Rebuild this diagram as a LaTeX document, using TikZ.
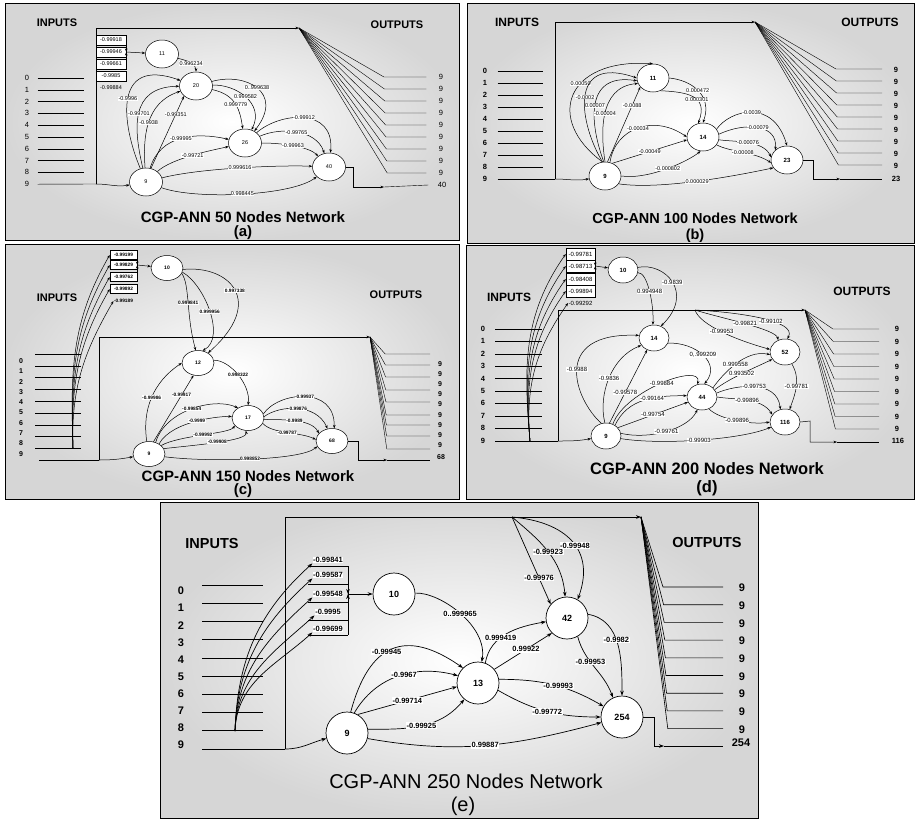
\documentclass[tikz,border=0pt]{standalone}
\usepackage{fontspec}
\setmainfont{Liberation Sans}
\usetikzlibrary{arrows.meta,shapes.geometric}
\newcommand{\fsz}[1]{\fontsize{#1}{#1}\selectfont}
\tikzset{
  panel/.style={draw, line width=0.8pt, inner color=white, outer color=black!16},
  neu/.style={draw, ellipse, fill=white, inner sep=0pt, line width=0.5pt},
  neuA/.style={neu, minimum width=33pt, minimum height=28pt, font=\fsz{5.5}},
  neuB/.style={neu, minimum width=32pt, minimum height=28pt, font=\bfseries\fsz{6}},
  neuC/.style={neu, minimum width=32pt, minimum height=25pt, font=\bfseries\fsz{5}},
  neuD/.style={neu, minimum width=30pt, minimum height=26pt, font=\bfseries\fsz{6}},
  neuE/.style={neu, circle, minimum size=42pt, line width=0.7pt, font=\bfseries\fsz{9}},
  link/.style={line width=0.5pt, -{Stealth[length=3.5pt,width=2.6pt]}},
  linkE/.style={line width=0.7pt, -{Stealth[length=5pt,width=3.6pt]}},
  wt/.style={fill=white, inner sep=0.4pt},
  wA/.style={wt, font=\fsz{5.5}},
  wC/.style={wt, font=\bfseries\fsz{4.8}},
  wD/.style={wt, font=\fsz{6}},
  wE/.style={wt, inner sep=0.6pt, font=\bfseries\fsz{7.5}},
  wbox/.style={draw, line width=0.5pt, minimum height=10pt},
  hdr/.style={font=\bfseries\fsz{11}},
  num/.style={font=\bfseries\fsz{7.5}},
  ttl/.style={font=\bfseries\fsz{15}},
}
\begin{document}
\begin{tikzpicture}[x=1pt, y=-1pt]
\useasboundingbox (0,0) rectangle (916,820);

% ---------- (a) 50 nodes
\path[panel] (5,3) rectangle (459,240);
\node[hdr] (aIn) at (57,23) {INPUTS};
\node[hdr] (aOut) at (397,25) {OUTPUTS};
\foreach \k in {0,...,9}
  \node[num, font=\fsz{7.5}] (ax\k) at (27,{78+11.8*\k}) {\k};
\foreach \k in {0,...,8}
  \draw ([xshift=5pt]ax\k.east) -- ++(46,0);
\coordinate (aj) at (96,184);
\coordinate (aF) at (299,28);
\draw ([xshift=5pt]ax9.east) -- (aj);
\draw[link] (aj) |- (aF);
\foreach \k in {0,...,8}{
  \node[num, font=\fsz{7.5}] (ay\k) at (441,{77+12*\k}) {9};
  \draw (aF) -- ({384+.4*\k},{77+12*\k}) -- ([xshift=-9pt]ay\k.west);
}
\node[num, font=\fsz{7.5}] (ay9) at (442,185) {40};

\node[wA, wbox, minimum width=30pt] (aw1) at (111,40) {-0.99918};
\node[wA, wbox, minimum width=30pt] (aw2) at (111,52) {-0.99946};
\node[wA, wbox, minimum width=30pt] (aw3) at (111,64) {-0.99661};
\node[wA, wbox, minimum width=30pt] (aw4) at (111,76) {-0.9985};
\node[wA, fill=none] (aw5) at (111,88) {-0.99884};

\node[neuA] (a11) at (162,54) {11};
\node[neuA] (a20) at (196,86) {20};
\node[neuA] (a26) at (245,143) {26};
\node[neuA] (a40) at (329,167) {40};
\node[neuA] (a9) at (146,182) {9};

\draw[link] (aj) to[out=0,in=190] (a9);
\draw[link] (aw1.south east) -- (aw2.east);
\draw[link] (aw3.north east) -- (aw2.east);
\draw[link] (aw2.east) -- (a11);
\draw[link] (a11) to[out=-15,in=90] node[wA,pos=.55] {0.996234} (a20);
\draw[link] (a9) .. controls (122,125) and (112,56) .. (a20) node[wA,pos=.5] {-0.9996};
\draw[link] (a9) .. controls (134,130) and (129,87) .. (a20) node[wA,pos=.5] {-0.99701};
\draw[link] (a9) .. controls (143,138) and (145,103) .. (a20) node[wA,pos=.5] {-0.9938};
\draw[link] (a9.70) -- (a20.220) node[wA,pos=.75] {-0.99351};
\draw[link] (a20) .. controls (245,72) and (285,92) .. (a26) node[wA,pos=.5] {0..999638};
\draw[link] (a20) .. controls (235,84) and (265,103) .. (a26) node[wA,pos=.5] {0.999582};
\draw[link] (a20) .. controls (237,95) and (240,111) .. (a26) node[wA,pos=.5] {0.999779};
\draw[link] (a9) .. controls (160,135) and (196,132) .. (a26) node[wA,pos=.5] {-0.99995};
\draw[link] (a9) .. controls (172,158) and (213,150) .. (a26) node[wA,pos=.5] {-0.99721};
\draw[link] (a26) .. controls (280,112) and (335,107) .. (a40) node[wA,pos=.5] {-0.99912};
\draw[link] (a26) .. controls (280,127) and (316,129) .. (a40) node[wA,pos=.5] {-0.99765};
\draw[link] (a26) .. controls (280,143) and (308,146) .. (a40) node[wA,pos=.5] {-0.99963};
\draw[link] (a9) .. controls (200,168) and (282,165) .. (a40) node[wA,pos=.5] {0.999616};
\draw[link] (a9) .. controls (195,200) and (292,196) .. (a40) node[wA,pos=.5] {0.998445};
\draw[link] (a40.east) -- (353,167) |- (384,187);
\draw (384,187) -- ([xshift=-6pt]ay9.west);

\node[ttl] (aT) at (243,217) {CGP-ANN 50 Nodes Network};
\node[ttl] (aS) at (243,233) {(a)};

% ---------- (b) 100 nodes
\path[panel] (467,3) rectangle (914,243);
\node[hdr, font=\bfseries\fsz{12}] (bIn) at (517,22) {INPUTS};
\node[hdr, font=\bfseries\fsz{12}] (bOut) at (870,22) {OUTPUTS};
\foreach \k in {0,...,9}
  \node[num] (bx\k) at (485,{71+12*\k}) {\k};
\foreach \k in {0,...,8}
  \draw ([xshift=7pt]bx\k.east) -- ++(45,0);
\coordinate (bj) at (555,179);
\coordinate (bF) at (755,22);
\draw ([xshift=7pt]bx9.east) -- (bj);
\draw[link] (bj) |- (bF);
\foreach \k in {0,...,8}{
  \node[num] (by\k) at (896,{70+12*\k}) {9};
  \draw (bF) -- ({836+.3*\k},{69+12*\k}) -- (882,{69+12*\k});
}
\node[num] (by9) at (896,179) {23};

\node[neuB] (b11) at (653,78) {11};
\node[neuB] (b14) at (703,137) {14};
\node[neuB] (b23) at (787,160) {23};
\node[neuB] (b9) at (605,176) {9};

\draw[link] (bj) to[out=0,in=190] (b9);
\draw[link] (b9.100) .. controls (545,120) and (565,58) .. (b11.north) node[wA,pos=.6] {0.00050};
\draw[link] (b9.100) .. controls (580,125) and (567,54) .. (b11.west) node[wA,pos=.5] {-0.0002};
\draw[link] (b9.95) .. controls (592,130) and (581,72) .. (b11.190) node[wA,pos=.5] {0.00007};
\draw[link] (b9.90) .. controls (601,135) and (598,87) .. (b11.200) node[wA,pos=.5] {-0.00004};
\draw[link] (b9.80) -- (b11.215) node[wA,pos=.75] {-0.0088};
\draw[link] (b11.east) .. controls (690,80) and (713,94) .. (b14.north) node[wA,pos=.5] {0.000472};
\draw[link] (b11.-60) .. controls (686,92) and (709,95) .. (b14.110) node[wA,pos=.6] {0.000301};
\draw[link] (b9.70) .. controls (615,128) and (654,114) .. (b14.west) node[wA,pos=.5] {-0.00034};
\draw[link] (b9.60) -- (b14.190) node[wA,pos=.5] {-0.00049};
\draw[link] (b9.east) .. controls (650,180) and (690,160) .. (b14.-100) node[wA,pos=.5] {-0.000802};
\draw[link] (b14.30) .. controls (730,110) and (773,98) .. (b23.north) node[wA,pos=.5] {-0.0039};
\draw[link] (b14.10) .. controls (745,122) and (778,124) .. (b23.140) node[wA,pos=.5] {-0.00079};
\draw[link] (b14.-10) .. controls (735,142) and (763,140) .. (b23.170) node[wA,pos=.5] {-0.00076};
\draw[link] (b14.-30) .. controls (730,152) and (755,152) .. (b23.190) node[wA,pos=.5] {-0.00008};
\draw[link] (b9.-30) .. controls (660,190) and (735,176) .. (b23.210) node[wA,pos=.5] {0.000029};
\draw[link] (b23.east) -- (813,160) |- (840,179);
\draw (840,179) -- (882,179);

\node[ttl, font=\bfseries\fsz{14.5}] (bT) at (695,218) {CGP-ANN 100 Nodes Network};
\node[ttl, font=\bfseries\fsz{14.5}] (bS) at (695,236) {(b)};

% ---------- (c) 150 nodes
\path[panel] (5,244) rectangle (459,499);
\node[hdr] (cIn) at (57,298) {INPUTS};
\node[hdr] (cOut) at (396,295) {OUTPUTS};
\foreach \k in {0,...,9}
  \node[num, font=\bfseries\fsz{7}] (cx\k) at (21,{361+10.3*\k}) {\k};
\foreach \k in {0,...,8}
  \draw (35,{354+11.8*\k}) -- ++(46,0);
\coordinate (cj) at (99,460);
\coordinate (cF) at (370,337);
\coordinate (cfb) at (73,448);
\draw (39,460) -- (cj);
\draw[link] (cj) |- (cF);
\foreach \yl/\yt [count=\k] in {354/364,365/374,377/384,390/394,402/404,415/415,425/425,436/435,449/445}{
  \node[num, font=\bfseries\fsz{7}] (cy\k) at (440,\yt) {9};
  \draw (cF) -- ({385+.2*\k},\yl) -- (430,\yl);
}
\node[num, font=\bfseries\fsz{7}] (cy0) at (441,457) {68};

\node[wC, wbox, minimum width=27pt, minimum height=9pt] (cw1) at (123.5,255) {-0.99199};
\node[wC, wbox, minimum width=27pt, minimum height=9pt] (cw2) at (123.5,265) {-0.99829};
\node[wC, wbox, minimum width=27pt, minimum height=9pt] (cw3) at (123.5,277) {-0.99762};
\node[wC, wbox, minimum width=27pt, minimum height=9pt] (cw4) at (123.5,289) {-0.99892};
\node[wC, fill=none] (cw5) at (123.5,301) {-0.99189};
\foreach \i in {1,...,5}
  \draw[link] (cfb) to[out=92,in=240] (cw\i.west);

\node[neuC] (c10) at (167,268) {10};
\node[neuC] (c12) at (198,363) {12};
\node[neuC] (c17) at (248,418) {17};
\node[neuC] (c68) at (332,441) {68};
\node[neuC] (c9) at (149,454) {9};

\draw[link] (cj) to[out=0,in=190] (c9);
\draw[link] (cw1.south east) -- (cw2.east);
\draw[link] (cw3.north east) -- (cw2.east);
\draw[link] (cw2.east) -- (c10);
\draw[link] (c10.-20) .. controls (190,285) and (186,315) .. (c12.100) node[wC,pos=.5] {0.999841};
\draw[link] (c10.-15) .. controls (205,285) and (226,338) .. (c12.70) node[wC,pos=.5] {0.999956};
\draw[link] (c10.-5) .. controls (230,265) and (266,302) .. (c12.45) node[wC,pos=.5] {0.997338};
\draw[link] (c9.70) -- (c12.-110) node[wC,pos=.7] {-0.99917};
\draw[link] (c9.100) .. controls (142,410) and (153,382) .. (c12.west) node[wC,pos=.5] {-0.99986};
\draw[link] (c12.10) .. controls (230,360) and (251,385) .. (c17.north) node[wC,pos=.5] {0.998322};
\draw[link] (c9.60) .. controls (165,410) and (215,397) .. (c17.135) node[wC,pos=.5] {-0.99854};
\draw[link] (c9.45) .. controls (172,420) and (223,416) .. (c17.175) node[wC,pos=.5] {-0.9999};
\draw[link] (c9.35) .. controls (180,435) and (229,434) .. (c17.210) node[wC,pos=.5] {-0.99992};
\draw[link] (c9.20) .. controls (195,445) and (248,441) .. (c17.-100) node[wC,pos=.5] {-0.99908};
\draw[link] (c17.15) .. controls (278,392) and (335,385) .. (c68.80) node[wC,pos=.5] {-0.99937};
\draw[link] (c17.5) .. controls (280,405) and (316,403) .. (c68.110) node[wC,pos=.5] {-0.99876};
\draw[link] (c17.-5) .. controls (280,420) and (311,418) .. (c68.150) node[wC,pos=.5] {-0.9989};
\draw[link] (c17.-20) .. controls (272,434) and (301,432) .. (c68.175) node[wC,pos=.5] {-0.99787};
\draw[link] (c9.-10) .. controls (205,462) and (301,461) .. (c68.200) node[wC,pos=.5] {0.998852};
\draw[link] (c68.east) -- (358,441) |- (387,460);
\draw (387,460) -- (430,460);

\node[ttl] (cT) at (248,476) {CGP-ANN 150 Nodes Network};
\node[ttl] (cS) at (243,491) {(c)};

% ---------- (d) 200 nodes
\path[panel] (466,245) rectangle (914,499);
\node[hdr, font=\bfseries\fsz{12}] (dIn) at (509,297) {INPUTS};
\node[hdr, font=\bfseries\fsz{12}] (dOut) at (862,291) {OUTPUTS};
\foreach \k in {0,...,9}
  \node[num] (dx\k) at (483,{329+12.4*\k}) {\k};
\foreach \k in {0,...,8}
  \draw (495,{329+12.4*\k}) -- ++(47,0);
\coordinate (dj) at (558,441);
\coordinate (dF) at (805,310);
\coordinate (dfb) at (530,441);
\coordinate (dm) at (695,310);
\draw (495,441) -- (dj);
\draw[link] (dj) |- (dF);
\foreach \k in {0,...,8}{
  \node[num] (dy\k) at (897,{329+12.5*\k}) {9};
  \draw (dF) -- ({833+.3*\k},{329+12.5*\k}) -- (879,{329+12.5*\k});
}
\node[num] (dy9) at (898,441) {116};

\node[wD, wbox, minimum width=29pt, minimum height=11.5pt] (dw1) at (580.5,254) {-0.99781};
\node[wD, wbox, minimum width=29pt, minimum height=11.5pt] (dw2) at (580.5,266) {-0.98713};
\node[wD, wbox, minimum width=29pt, minimum height=11.5pt] (dw3) at (580.5,279) {-0.98408};
\node[wD, wbox, minimum width=29pt, minimum height=11.5pt] (dw4) at (580.5,291) {-0.99894};
\node[wD, fill=none] (dw5) at (580.5,303) {-0.99292};
\foreach \i in {1,...,5}
  \draw[link] (dfb) to[out=95,in=235] (dw\i.west);

\node[neuD] (d10) at (623,270) {10};
\node[neuD] (d14) at (654,338) {14};
\node[neuD] (d52) at (785,352) {52};
\node[neuD] (d44) at (702,397) {44};
\node[neuD] (d116) at (785,422) {116};
\node[neuD] (d9) at (606,436) {9};

\draw[link] (dj) to[out=0,in=190] (d9);
\draw[link] (dw1.south east) -- (dw2.east);
\draw[link] (dw3.north east) -- (dw2.east);
\draw[link] (dw2.east) -- (d10);
\draw[link] (d10.-10) .. controls (648,272) and (654,307) .. (d14.95) node[wD,pos=.5] {0.994948};
\draw[link] (d10.10) .. controls (665,262) and (695,293) .. (d14.60) node[wD,pos=.5] {-0.9839};
\draw[link] (d9.110) .. controls (575,400) and (550,332) .. (d14.170) node[wD,pos=.5] {-0.9988};
\draw[link] (d9.95) .. controls (598,395) and (611,357) .. (d14.210) node[wD,pos=.5] {-0.9836};
\draw[link] (d9.75) -- (d14.240) node[wD,pos=.42] {-0.99578};
\draw[link] (d14.-20) .. controls (695,342) and (722,363) .. (d44.80) node[wD,pos=.5] {0,.999209};
\draw[link] (dm) .. controls (700,325) and (736,340) .. (d52.170) node[wD,pos=.5] {-0.99953};
\draw[link] (dm) .. controls (720,318) and (776,329) .. (d52.120) node[wD,pos=.5] {-0.99821};
\draw[link] (dm) .. controls (735,312) and (798,320) .. (d52.80) node[wD,pos=.6] {-0.99102};
\draw[link] (d9.60) .. controls (625,390) and (703,362) .. (d44.110) node[wD,pos=.5] {-0.99884};
\draw[link] (d9.50) to[out=65,in=180] node[wD,pos=.6] {-0.99164} (d44.175);
\draw[link] (d9.35) -- (d44.200) node[wD,pos=.5] {-0.99754};
\draw[link] (d9.10) .. controls (650,440) and (688,429) .. (d44.-110) node[wD,pos=.5] {-0.99761};
\draw[link] (d44.40) .. controls (722,375) and (745,349) .. (d52.190) node[wD,pos=.5] {0.999558};
\draw[link] (d44.30) .. controls (730,378) and (752,369) .. (d52.210) node[wD,pos=.5] {0.993502};
\draw[link] (d44.15) .. controls (735,385) and (777,379) .. (d116.110) node[wD,pos=.5] {-0.99753};
\draw[link] (d44.0) .. controls (735,400) and (761,397) .. (d116.150) node[wD,pos=.5] {-0.99896};
\draw[link] (d44.-60) .. controls (720,420) and (753,425) .. (d116.180) node[wD,pos=.5] {-0.99896};
\draw[link] (d52.-60) to[out=-60,in=70] node[wD,pos=.5] {-0.99781} (d116.70);
\draw[link] (d9.-10) .. controls (660,445) and (740,440) .. (d116.200) node[wD,pos=.5] {-0.99903};
\draw[link] (d116.east) -- (810,421) |- (837,442);
\draw (837,442) -- (879,442);

\node[ttl, font=\bfseries\fsz{16.5}] (dT) at (707,469) {CGP-ANN 200 Nodes Network};
\node[ttl, font=\bfseries\fsz{16.5}] (dS) at (707,488) {(d)};

% ---------- (e) 250 nodes
\path[panel, line width=1pt] (160,502) rectangle (758,818);
\node[hdr, font=\bfseries\fsz{14.5}] (eIn) at (212,543) {INPUTS};
\node[hdr, font=\bfseries\fsz{14.5}] (eOut) at (707,542) {OUTPUTS};
\foreach \k in {0,...,9}
  \node[num, font=\bfseries\fsz{11}] (ex\k) at (181,{591+17.1*\k}) {\k};
\foreach \k in {0,...,8}
  \draw[line width=0.6pt] (202,{585+18.2*\k}) -- ++(61,0);
\coordinate (ej) at (285,749);
\coordinate (eF) at (641,517);
\coordinate (efb) at (235,731);
\coordinate (em) at (512,517);
\coordinate (eb) at (348,594);
\draw[line width=0.6pt] (202,749) -- (ej);
\draw[linkE] (ej) |- (eF);
\foreach \k in {0,...,8}{
  \node[num, font=\bfseries\fsz{11}] (ey\k) at (742,{588+17.7*\k}) {9};
  \draw[line width=0.6pt] (eF) -- ({663+.6*\k},{587+17.7*\k}) -- (723,{587+17.7*\k});
}
\node[num, font=\bfseries\fsz{11}] (ey9) at (741,743) {254};

\node[wE] (ew1) at (328,560) {-0.99841};
\node[wE] (ew2) at (328,575) {-0.99587};
\node[wE] (ew3) at (328,594) {-0.99548};
\node[wE] (ew4) at (328,612) {-0.9995};
\node[wE] (ew5) at (328,629) {-0.99699};
\foreach \y in {566,584,602,620,635}
  \draw[line width=0.6pt] (308,\y) -- (348,\y);
\draw[line width=0.6pt] (348,566) -- (348,635);
\foreach \i in {1,...,5}
  \draw[linkE] (efb) to[out=88,in=222] (ew\i.south west);

\node[neuE] (e10) at (394,594) {10};
\node[neuE] (e13) at (478,683) {13};
\node[neuE] (e42) at (567,618) {42};
\node[neuE] (e254) at (622,717) {254};
\node[neuE] (e9) at (347,733) {9};

\draw[linkE] (ej) to[out=0,in=195] (e9);
\draw[linkE] (348,584) -- (eb);
\draw[linkE] (348,604) -- (eb);
\draw[linkE] (eb) -- (e10);
\draw[linkE] (e10) .. controls (440,592) and (488,626) .. (e13) node[wE,pos=.5] {0..999965};
\draw[linkE] (e9.80) to[out=75,in=145,looseness=1.5] node[wE,pos=.45] {-0.99945} (e13.135);
\draw[linkE] (e9.70) to[out=60,in=165] node[wE,pos=.55] {-0.9967} (e13.160);
\draw[linkE] (e9.60) -- (e13.190) node[wE,pos=.5] {-0.99714};
\draw[linkE] (e9.10) to[out=0,in=230] node[wE,pos=.5] {-0.99925} (e13.230);
\draw[linkE] (e13.70) to[out=80,in=190] node[wE,pos=.4] {0.999419} (e42.190);
\draw[linkE] (e13.40) -- (e42.225) node[wE,pos=.55] {0.99922};
\draw[linkE] (e13.10) to[out=0,in=150] node[wE,pos=.55] {-0.99993} (e254.150);
\draw[linkE] (e13.-20) to[out=-30,in=180] node[wE,pos=.5] {-0.99772} (e254.180);
\draw[linkE] (e42.10) to[out=-10,in=90] node[wE,pos=.45] {-0.9982} (e254.north);
\draw[linkE] (e42.-60) to[out=-75,in=110] node[wE,pos=.4] {-0.99953} (e254.115);
\draw[linkE] (em) -- (e42.140) node[wE,pos=.7] {-0.99976};
\draw[linkE] (em) to[out=-40,in=95] node[wE,pos=.5] {-0.99923} (e42.95);
\draw[linkE] (em) to[out=-5,in=70,looseness=1.3] node[wE,pos=.55] {-0.99948} (e42.60);
\draw[linkE] (e9.-15) to[out=-10,in=195] node[wE,pos=.5] {0.99887} (e254.195);
\draw[linkE] (e254.east) -- (654,717) |- (664,746);
\draw[line width=0.6pt] (664,746) -- (723,746);

\node[ttl, font=\fsz{20}] (eT) at (466,781) {CGP-ANN 250 Nodes Network};
\node[ttl, font=\fsz{20}] (eS) at (463,806) {(e)};
\end{tikzpicture}
\end{document}
